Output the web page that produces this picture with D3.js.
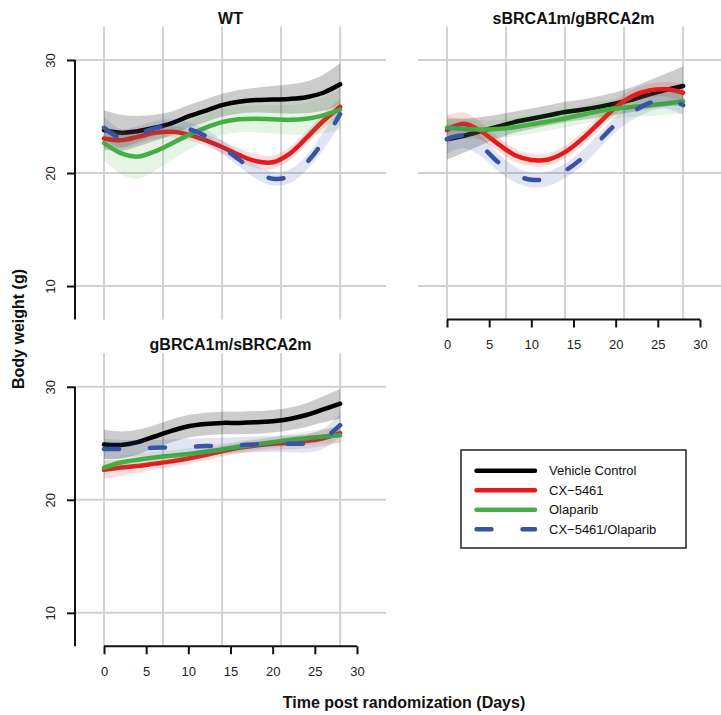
<!DOCTYPE html>
<html>
<head>
<meta charset="utf-8">
<script src="https://cdn.jsdelivr.net/npm/d3@7"></script>
<style>
  body { margin: 0; background: #fff; }
  svg { display: block; font-family: "Liberation Sans", Arial, Helvetica, sans-serif; }
</style>
</head>
<body>
<svg id="chart" width="721" height="715"></svg>
<script>
// ---- data: smoothed body weight (g) by day, with half-width of the confidence band ----
const days = [0, 2, 4, 6, 8, 10, 12, 14, 16, 18, 20, 22, 24, 26, 28];
const treatments = ["Vehicle Control", "CX\u22125461", "Olaparib", "CX\u22125461/Olaparib"];
const genotypes = ["WT", "sBRCA1m/gBRCA2m", "gBRCA1m/sBRCA2m"];
const yTickValues = [10, 20, 30];
const xTickValues = [0, 5, 10, 15, 20, 25, 30];
const gridDays = [0, 7, 14, 21, 28];

// WT
const wtVehicle   = [23.8, 23.55, 23.7, 24.0, 24.4, 25.0, 25.5, 26.0, 26.3, 26.45, 26.5, 26.55, 26.7, 27.1, 27.85];
const wtCX        = [23.05, 22.9, 23.2, 23.55, 23.65, 23.4, 22.9, 22.3, 21.6, 21.05, 20.95, 21.7, 23.1, 24.6, 25.85];
const wtOla       = [22.65, 21.75, 21.45, 21.9, 22.6, 23.35, 24.0, 24.5, 24.75, 24.8, 24.75, 24.7, 24.8, 25.1, 25.6];
const wtCombo     = [24.0, 23.1, 23.45, 23.95, 24.2, 23.9, 23.3, 22.3, 21.2, 20.1, 19.5, 19.7, 20.9, 22.8, 25.2];
const wtVehicleSE = [1.75, 1.6, 1.35, 1.15, 1.05, 1.0, 1.0, 1.0, 1.05, 1.1, 1.2, 1.3, 1.4, 1.6, 1.85];
const wtCXSE      = [0.8, 0.7, 0.6, 0.55, 0.5, 0.5, 0.5, 0.55, 0.6, 0.6, 0.6, 0.6, 0.6, 0.65, 0.75];
const wtOlaSE     = [1.5, 1.85, 1.95, 1.7, 1.45, 1.3, 1.2, 1.15, 1.15, 1.2, 1.25, 1.3, 1.4, 1.6, 1.8];
const wtComboSE   = [1.0, 0.8, 0.7, 0.65, 0.6, 0.6, 0.6, 0.6, 0.6, 0.6, 0.6, 0.6, 0.65, 0.75, 0.9];

// sBRCA1m/gBRCA2m
const sgVehicle   = [23.0, 23.3, 23.7, 24.1, 24.5, 24.8, 25.1, 25.4, 25.6, 25.85, 26.15, 26.5, 26.95, 27.35, 27.7];
const sgCX        = [23.8, 24.35, 23.7, 22.6, 21.6, 21.15, 21.2, 21.85, 23.0, 24.4, 25.8, 26.8, 27.3, 27.4, 27.1];
const sgOla       = [24.0, 23.9, 23.85, 23.9, 24.05, 24.3, 24.55, 24.85, 25.15, 25.45, 25.7, 25.85, 26.0, 26.15, 26.35];
const sgCombo     = [23.0, 23.3, 22.4, 21.0, 19.9, 19.4, 19.5, 20.2, 21.3, 22.8, 24.3, 25.4, 26.2, 26.5, 26.0];
const sgVehicleSE = [1.8, 1.5, 1.25, 1.05, 0.95, 0.9, 0.9, 0.9, 0.9, 0.95, 1.0, 1.1, 1.25, 1.45, 1.75];
const sgCXSE      = [1.3, 1.0, 0.8, 0.65, 0.6, 0.55, 0.55, 0.55, 0.6, 0.6, 0.6, 0.6, 0.6, 0.65, 0.8];
const sgOlaSE     = [1.0, 0.9, 0.85, 0.8, 0.8, 0.8, 0.8, 0.8, 0.8, 0.85, 0.85, 0.9, 0.95, 1.0, 1.1];
const sgComboSE   = [1.3, 1.1, 0.9, 0.8, 0.7, 0.65, 0.65, 0.65, 0.65, 0.65, 0.7, 0.7, 0.75, 0.8, 0.9];

// gBRCA1m/sBRCA2m
const gsVehicle   = [24.9, 24.85, 25.1, 25.6, 26.1, 26.5, 26.7, 26.8, 26.8, 26.85, 26.95, 27.15, 27.5, 28.0, 28.5];
const gsCX        = [22.65, 22.85, 23.0, 23.2, 23.4, 23.65, 23.95, 24.3, 24.6, 24.8, 24.95, 25.05, 25.2, 25.45, 25.9];
const gsOla       = [22.85, 23.3, 23.55, 23.75, 23.9, 24.05, 24.25, 24.45, 24.7, 24.9, 25.1, 25.3, 25.45, 25.6, 25.7];
const gsCombo     = [24.5, 24.5, 24.55, 24.6, 24.65, 24.7, 24.75, 24.8, 24.85, 24.9, 24.95, 24.95, 25.0, 25.4, 26.6];
const gsVehicleSE = [1.3, 1.2, 1.1, 1.0, 1.0, 1.0, 1.0, 1.0, 1.0, 1.0, 1.0, 1.0, 1.05, 1.15, 1.3];
const gsCXSE      = [0.8, 0.7, 0.6, 0.55, 0.5, 0.5, 0.5, 0.5, 0.5, 0.5, 0.55, 0.6, 0.65, 0.7, 0.8];
const gsOlaSE     = [0.7, 0.6, 0.55, 0.5, 0.5, 0.5, 0.5, 0.5, 0.5, 0.5, 0.5, 0.55, 0.6, 0.65, 0.7];
const gsComboSE   = [0.9, 0.8, 0.75, 0.7, 0.7, 0.7, 0.7, 0.7, 0.7, 0.7, 0.7, 0.75, 0.8, 0.9, 1.0];

// ---- styling ----
const lineColors = ["#000000", "#e41a1c", "#44b044", "#3953a4"];
const bandOpacity = [0.2, 0.15, 0.14, 0.15];
const dashed = [false, false, false, true];
const DASH = "15 31";
const LINE_W = 4.5;
const GRID = "#d2d2d2";

// ---- layout ----
const svg = d3.select("#chart");
svg.append("rect").attr("width", 721).attr("height", 715).attr("fill", "#fff");

const PW = 311, PH = 293;
const panels = [
  { title: genotypes[0], x0: 75,  y0: 26.5,  yAxis: true,  xAxis: false,
    means: [wtVehicle, wtCX, wtOla, wtCombo], ses: [wtVehicleSE, wtCXSE, wtOlaSE, wtComboSE] },
  { title: genotypes[1], x0: 418, y0: 26.5,  yAxis: false, xAxis: true,
    means: [sgVehicle, sgCX, sgOla, sgCombo], ses: [sgVehicleSE, sgCXSE, sgOlaSE, sgComboSE] },
  { title: genotypes[2], x0: 75,  y0: 353.3, yAxis: true,  xAxis: true,
    means: [gsVehicle, gsCX, gsOla, gsCombo], ses: [gsVehicleSE, gsCXSE, gsOlaSE, gsComboSE] }
];

const x = d3.scaleLinear().domain([-3.44, 33.44]).range([0, PW]);
const y = d3.scaleLinear().domain([7.04, 32.96]).range([PH, 0]);
const curve = d3.curveCatmullRom.alpha(0.5);

panels.forEach(p => {
  const g = svg.append("g").attr("transform", `translate(${p.x0},${p.y0})`);

  // grid
  g.selectAll(".hgrid").data(yTickValues).join("line")
    .attr("x1", 0).attr("x2", PW)
    .attr("y1", d => y(d)).attr("y2", d => y(d))
    .attr("stroke", GRID).attr("stroke-width", 2);
  g.selectAll(".vgrid").data(gridDays).join("line")
    .attr("x1", d => x(d)).attr("x2", d => x(d))
    .attr("y1", 0).attr("y2", PH)
    .attr("stroke", GRID).attr("stroke-width", 2);

  // bands and smoothed lines, one treatment at a time
  p.means.forEach((m, i) => {
    const pts = days.map((d, k) => ({ d, v: m[k], s: p.ses[i][k] }));
    const area = d3.area().curve(curve)
      .x(e => x(e.d)).y0(e => y(e.v - e.s)).y1(e => y(e.v + e.s));
    g.append("path").datum(pts).attr("d", area)
      .attr("fill", lineColors[i]).attr("fill-opacity", bandOpacity[i]);
    const line = d3.line().curve(curve).x(e => x(e.d)).y(e => y(e.v));
    g.append("path").datum(pts).attr("d", line)
      .attr("fill", "none").attr("stroke", lineColors[i])
      .attr("stroke-width", LINE_W)
      .attr("stroke-linecap", dashed[i] ? "round" : "round")
      .attr("stroke-linejoin", "round")
      .attr("stroke-dasharray", dashed[i] ? DASH : null);
  });

  // title
  g.append("text").attr("x", PW / 2).attr("y", -8.5)
    .attr("text-anchor", "middle").attr("dominant-baseline", "central")
    .attr("font-weight", "bold").attr("font-size", 16).attr("fill", "#111")
    .text(p.title);

  // y axis
  if (p.yAxis) {
    const ya = g.append("g").call(d3.axisLeft(y).tickValues(yTickValues).tickSize(8).tickPadding(0));
    ya.select(".domain").remove();
    ya.selectAll(".tick line").attr("stroke", "#111").attr("stroke-width", 2);
    ya.selectAll(".tick text")
      .attr("x", null).attr("dy", null)
      .attr("transform", "translate(-25,0) rotate(-90)")
      .attr("text-anchor", "middle").attr("dominant-baseline", "central")
      .attr("font-size", 13).attr("fill", "#222");
    ya.append("line").attr("x1", 0).attr("x2", 0)
      .attr("y1", y(30)).attr("y2", PH)
      .attr("stroke", "#111").attr("stroke-width", 2);
  }

  // x axis
  if (p.xAxis) {
    const xa = g.append("g").attr("transform", `translate(0,${PH})`)
      .call(d3.axisBottom(x).tickValues(xTickValues).tickSize(8).tickPadding(0));
    xa.select(".domain").remove();
    xa.selectAll(".tick line").attr("stroke", "#111").attr("stroke-width", 2);
    xa.selectAll(".tick text")
      .attr("y", 25).attr("dy", null).attr("dominant-baseline", "central")
      .attr("font-size", 13).attr("fill", "#222");
    xa.append("line").attr("x1", x(0)).attr("x2", x(30))
      .attr("y1", 0).attr("y2", 0)
      .attr("stroke", "#111").attr("stroke-width", 2);
  }
});

// axis titles
svg.append("text")
  .attr("transform", "translate(18,329) rotate(-90)")
  .attr("text-anchor", "middle").attr("dominant-baseline", "central")
  .attr("font-weight", "bold").attr("font-size", 16).attr("fill", "#111")
  .text("Body weight (g)");
svg.append("text")
  .attr("x", 404).attr("y", 702)
  .attr("text-anchor", "middle").attr("dominant-baseline", "central")
  .attr("font-weight", "bold").attr("font-size", 16).attr("fill", "#111")
  .text("Time post randomization (Days)");

// legend
const lg = svg.append("g").attr("transform", "translate(461,450)");
lg.append("rect").attr("width", 225).attr("height", 98)
  .attr("fill", "#fff").attr("stroke", "#222").attr("stroke-width", 1.5);
treatments.forEach((t, i) => {
  const ry = 20.7 + i * 19.5;
  lg.append("line").attr("x1", 15.5).attr("x2", 74).attr("y1", ry).attr("y2", ry)
    .attr("stroke", lineColors[i]).attr("stroke-width", LINE_W)
    .attr("stroke-linecap", "round")
    .attr("stroke-dasharray", dashed[i] ? DASH : null);
  lg.append("text").attr("x", 88).attr("y", ry)
    .attr("dominant-baseline", "central").attr("font-size", 13).attr("fill", "#111")
    .text(t);
});
</script>
</body>
</html>
